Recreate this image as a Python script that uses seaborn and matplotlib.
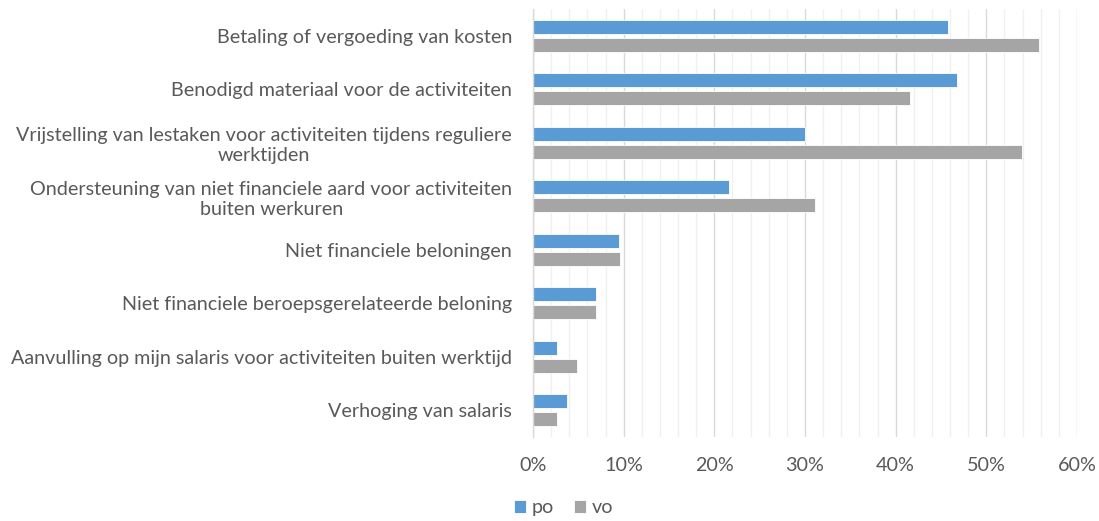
import matplotlib
matplotlib.use("Agg")
import matplotlib.pyplot as plt
from matplotlib.ticker import MultipleLocator, FixedLocator, PercentFormatter
import seaborn as sns
import pandas as pd

categories = [
    "Betaling of vergoeding van kosten",
    "Benodigd materiaal voor de activiteiten",
    "Vrijstelling van lestaken voor activiteiten tijdens reguliere\nwerktijden",
    "Ondersteuning van niet financiele aard voor activiteiten\nbuiten werkuren",
    "Niet financiele beloningen",
    "Niet financiele beroepsgerelateerde beloning",
    "Aanvulling op mijn salaris voor activiteiten buiten werktijd",
    "Verhoging van salaris",
]
po = [45.8, 46.8, 30.0, 21.6, 9.5, 7.0, 2.6, 3.7]
vo = [55.8, 41.6, 53.9, 31.1, 9.6, 6.9, 4.9, 2.65]
series = ["po", "vo"]
colors = {"po": "#5B9BD5", "vo": "#A5A5A5"}

df = pd.DataFrame({
    "categorie": categories * 2,
    "waarde": po + vo,
    "groep": ["po"] * len(categories) + ["vo"] * len(categories),
})

sns.set_theme(style="white")
plt.rcParams["font.family"] = ["Lato", "DejaVu Sans"]
text_color = "#595959"
fs = 14.2

fig = plt.figure(figsize=(10.99, 5.21), dpi=100)
ax = fig.add_axes([0.485, 0.161, 0.495, 0.822])

sns.barplot(data=df, y="categorie", x="waarde", hue="groep", order=categories,
            hue_order=series, palette=colors, width=0.67, gap=0.21,
            orient="h", ax=ax, legend=True, saturation=1,
            edgecolor="white", linewidth=0.6)

ax.set_xlim(0, 60)
ax.set_ylim(len(categories) - 0.5, -0.5)
ax.xaxis.set_major_locator(MultipleLocator(10))
ax.xaxis.set_minor_locator(MultipleLocator(2))
ax.xaxis.set_major_formatter(PercentFormatter(decimals=0))
ax.grid(axis="x", which="major", color="#D9D9D9", linewidth=1.0)
ax.grid(axis="x", which="minor", color="#F0F0F0", linewidth=1.0)
ax.set_axisbelow(True)

ax.yaxis.set_minor_locator(FixedLocator([i - 0.5 for i in range(len(categories) + 1)]))
ax.tick_params(axis="y", which="major", length=0, pad=15, labelsize=fs, labelcolor=text_color)
ax.tick_params(axis="y", which="minor", length=5, color="#D9D9D9", width=1)
ax.tick_params(axis="x", which="both", length=0, pad=14, labelsize=fs, labelcolor=text_color)
for lbl in ax.get_yticklabels():
    lbl.set_multialignment("center")

for side in ["top", "right", "bottom"]:
    ax.spines[side].set_visible(False)
ax.spines["left"].set_color("#D9D9D9")
ax.spines["left"].set_linewidth(1)

ax.set_xlabel("")
ax.set_ylabel("")

handles, labels = ax.get_legend_handles_labels()
ax.legend_.remove()
fig.legend(handles, labels, loc="center", bbox_to_anchor=(0.513, 0.025), ncol=2,
           frameon=False, fontsize=fs, labelcolor=text_color, handlelength=0.6,
           handleheight=0.6, handletextpad=0.3, columnspacing=1.0)

fig.savefig("out.png", dpi=100)
